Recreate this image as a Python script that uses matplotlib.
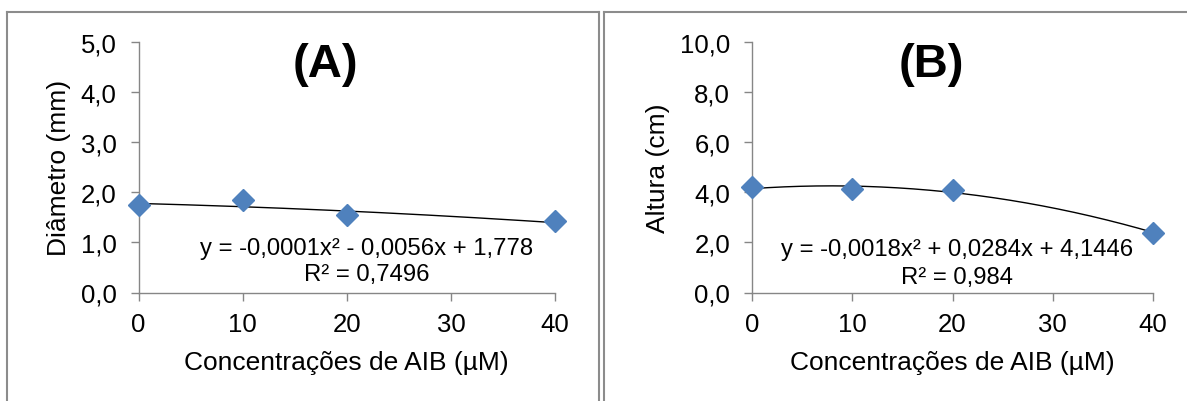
import numpy as np
import matplotlib
matplotlib.use("Agg")
import matplotlib.pyplot as plt
from matplotlib.lines import Line2D

plt.rcParams["font.family"] = ["Liberation Sans", "DejaVu Sans"]

# ---------------- data ----------------
conc = [0, 10, 20, 40]
diametro = [1.75, 1.85, 1.55, 1.43]
altura = [4.21, 4.15, 4.11, 2.39]

# trend line coefficients (a, b, c) as printed on the chart
coef_a = [-0.0001, -0.0056, 1.778]
coef_b = [-0.0018, 0.0284, 4.1446]

eq_a = "y = -0,0001x² - 0,0056x + 1,778"
r2_a = "R² = 0,7496"
eq_b = "y = -0,0018x² + 0,0284x + 4,1446"
r2_b = "R² = 0,984"

x_ticks = [0, 10, 20, 30, 40]
y_ticks_a = [0, 1, 2, 3, 4, 5]
y_ticks_b = [0, 2, 4, 6, 8, 10]

W, H = 1187, 402
fig = plt.figure(figsize=(W / 100, H / 100), dpi=100)

axis_grey = "#868686"
blue = "#4F81BD"


def px(x, y):
    return x / W, 1 - y / H


def frame_line(x0, y0, x1, y1):
    (fx0, fy0), (fx1, fy1) = px(x0, y0), px(x1, y1)
    fig.add_artist(Line2D([fx0, fx1], [fy0, fy1], transform=fig.transFigure,
                          color="#8c8c8c", lw=1.5))


# panel borders
frame_line(7, 13, 7, 402)
frame_line(7, 13, 599, 13)
frame_line(599, 13, 599, 402)
frame_line(604, 13, 604, 402)
frame_line(604, 13, 1187, 13)


def make_panel(rect, y, coef, yticks, ylabel, title, eq, r2, eq_x, eq_y, ylab_x):
    ax = fig.add_axes(rect)
    ax.plot(conc, y, "D", color=blue, ms=11, mec=blue, zorder=3, clip_on=False)
    xs = np.linspace(0, 40, 200)
    ax.plot(xs, np.polyval(coef, xs), color="black", lw=1.0, zorder=2)

    ax.set_xlim(0, 40)
    ax.set_ylim(yticks[0], yticks[-1])
    ax.set_xticks(x_ticks)
    ax.set_xticklabels([str(t) for t in x_ticks])
    ax.set_yticks(yticks)
    ax.set_yticklabels([f"{t:.1f}".replace(".", ",") for t in yticks])

    for s in ["top", "right"]:
        ax.spines[s].set_visible(False)
    for s in ["left", "bottom"]:
        ax.spines[s].set_color(axis_grey)
        ax.spines[s].set_linewidth(1.0)
    ax.tick_params(axis="both", direction="out", length=5.8, width=1.0,
                   color=axis_grey, labelsize=18.5)
    ax.tick_params(axis="x", pad=8)
    ax.tick_params(axis="y", pad=10)

    ax.set_xlabel("Concentrações de AIB (µM)", fontsize=19)
    ax.set_ylabel(ylabel, fontsize=19)
    ax.xaxis.set_label_coords(0.5, -0.23)
    ax.yaxis.set_label_coords(ylab_x, 0.5)

    ax.text(0.448, 0.912, title, transform=ax.transAxes, fontsize=34,
            fontweight="bold", ha="center", va="center")
    ax.text(eq_x, eq_y[0], eq, transform=ax.transAxes, fontsize=17.2,
            ha="center", va="center")
    ax.text(eq_x, eq_y[1], r2, transform=ax.transAxes, fontsize=17.2,
            ha="center", va="center")
    return ax


bottom = 1 - 293.5 / H
height = (293.5 - 43) / H

make_panel([138.5 / W, bottom, (555 - 138.5) / W, height], diametro, coef_a,
           y_ticks_a, "Diâmetro (mm)", "(A)", eq_a, r2_a, 0.547, (0.178, 0.072), -0.163)
make_panel([752 / W, bottom, (1153 - 752) / W, height], altura, coef_b,
           y_ticks_b, "Altura (cm)", "(B)", eq_b, r2_b, 0.512, (0.172, 0.060), -0.204)

fig.savefig("out.png", dpi=100)
